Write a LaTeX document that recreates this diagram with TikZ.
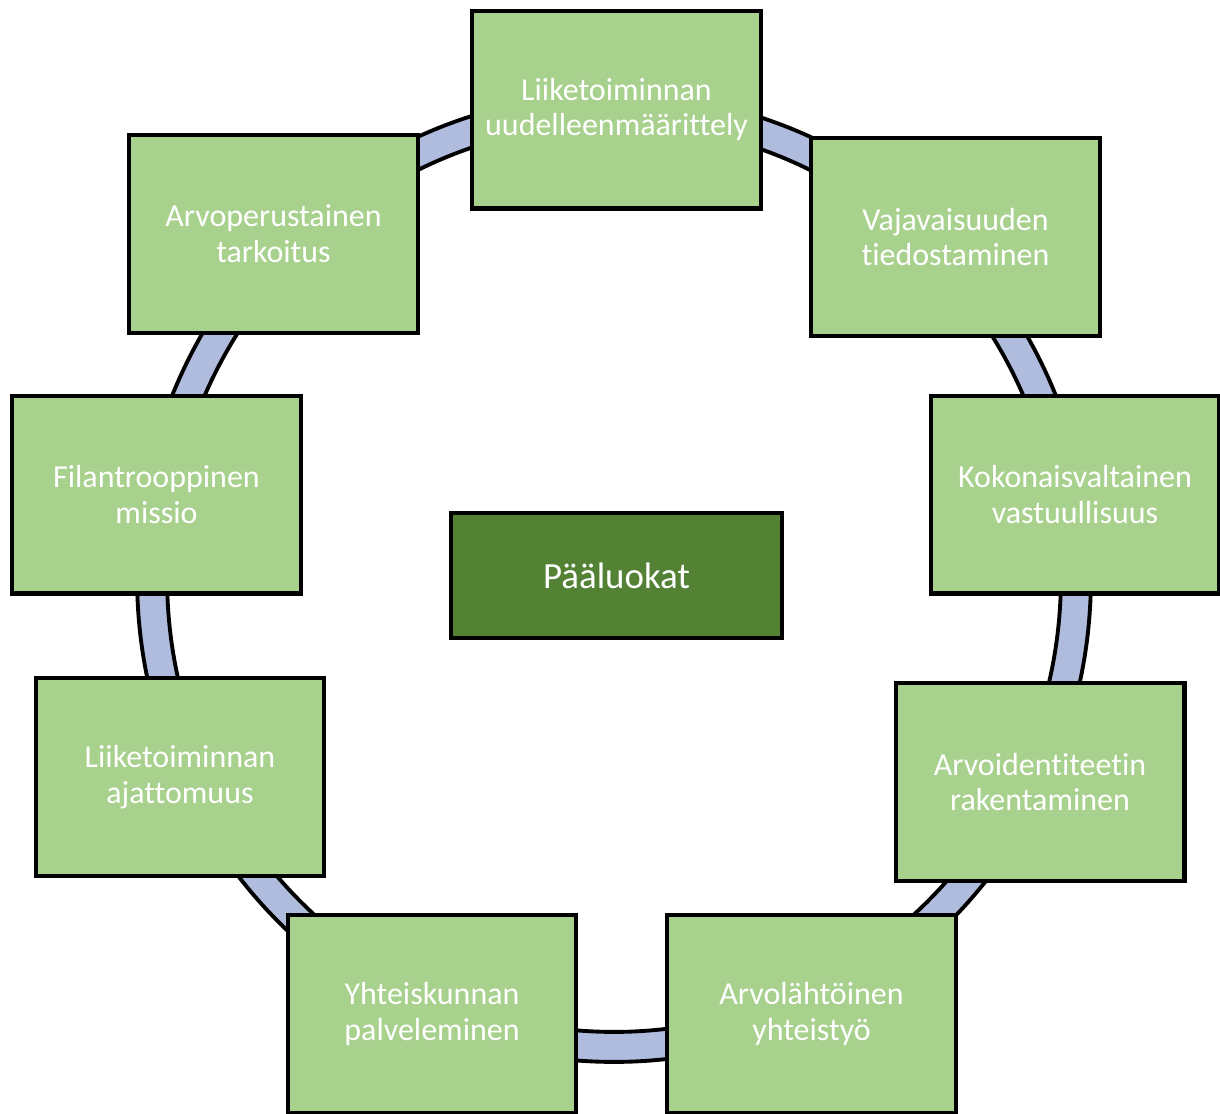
\documentclass[tikz,border=0pt]{standalone}
\usepackage{fontspec}
\setmainfont[Ligatures=NoCommon]{Carlito}
\usetikzlibrary{positioning}
\definecolor{vaaleavihrea}{HTML}{A9D18E}
\definecolor{tummavihrea}{HTML}{548235}
\definecolor{rengassini}{HTML}{B0BCDE}

\begin{document}
\begin{tikzpicture}[x=0.02cm, y=-0.02cm,
  luokka/.style={draw, line width=2.3pt, fill=vaaleavihrea, text=white,
    minimum width=5.78cm, minimum height=3.96cm, inner sep=0pt, align=center,
    font=\fontsize{18.2}{20.4}\selectfont},
  paaluokka/.style={draw, line width=2.3pt, fill=tummavihrea, text=white,
    minimum width=6.62cm, minimum height=2.5cm, inner sep=0pt,
    font=\fontsize{21}{25}\selectfont}]
  \clip (0,0) rectangle (1220,1113);
  \fill[rengassini, even odd rule] (614,578) ellipse [x radius=9.54cm, y radius=9.68cm]
    (614,578) ellipse [x radius=8.94cm, y radius=9.08cm];
  \draw[line width=2.2pt] (614,578) ellipse [x radius=9.54cm, y radius=9.68cm];
  \draw[line width=2.2pt] (614,578) ellipse [x radius=8.94cm, y radius=9.08cm];

  \node[paaluokka] (paa) at (616.5,575.5) {Pääluokat};

  \node[luokka] (uudelleen) at (616.5,109.5) {Liiketoiminnan\\uudelleenmäärittely};
  \node[luokka] (vajavaisuus) at (955.5,237) {Vajavaisuuden\\tiedostaminen};
  \node[luokka] (vastuu) at (1075,494.5) {Kokonaisvaltainen\\vastuullisuus};
  \node[luokka] (identiteetti) at (1040,782) {Arvoidentiteetin\\rakentaminen};
  \node[luokka] (yhteistyo) at (811.5,1014) {Arvolähtöinen\\yhteistyö};
  \node[luokka] (palvelu) at (432,1014) {Yhteiskunnan\\palveleminen};
  \node[luokka] (ajattomuus) at (180,777) {Liiketoiminnan\\ajattomuus};
  \node[luokka] (missio) at (156.5,494.5) {Filantrooppinen\\missio};
  \node[luokka] (tarkoitus) at (273.5,234) {Arvoperustainen\\tarkoitus};
\end{tikzpicture}
\end{document}
